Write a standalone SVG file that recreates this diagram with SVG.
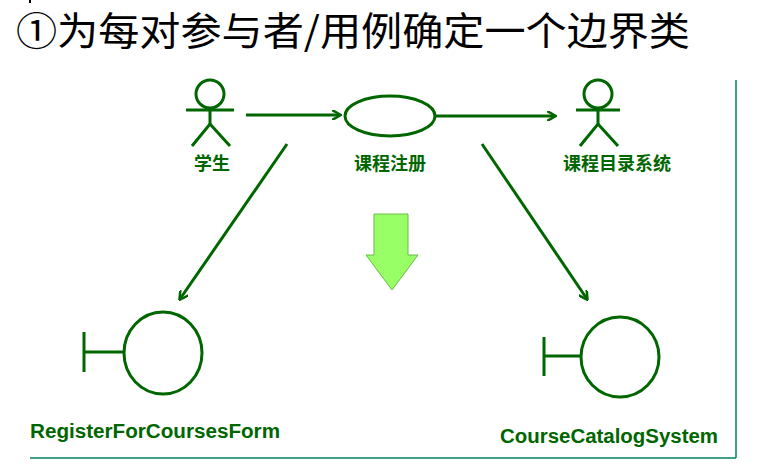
<svg xmlns="http://www.w3.org/2000/svg" width="759" height="468" viewBox="0 0 759 468">
<style>
.s{stroke:#006600;stroke-width:3;fill:none}
.c{stroke:#006600;stroke-width:3;fill:#fff}
.l{font-family:"Noto Sans CJK SC",sans-serif;font-weight:bold;font-size:18px;fill:#006600;text-anchor:middle}
.e{font-family:"Liberation Sans",sans-serif;font-weight:bold;font-size:20px;fill:#006600}
</style>
<defs><marker id="a" markerWidth="10" markerHeight="10" refX="8" refY="5" orient="auto" markerUnits="userSpaceOnUse"><path d="M0,0 L9,5 L0,10" fill="none" stroke="#006600" stroke-width="2.5"/></marker></defs>
<rect width="759" height="468" fill="#fff"/>
<line x1="30" y1="0" x2="30" y2="3" stroke="#000" stroke-width="2"/>
<text x="16" y="45" font-family="Noto Sans CJK SC,sans-serif" font-size="39" fill="#000" textLength="674" lengthAdjust="spacingAndGlyphs">①为每对参与者/用例确定一个边界类</text>
<g stroke="#008060" stroke-width="1.5"><line x1="736" y1="80" x2="736" y2="458"/><line x1="30" y1="458" x2="736" y2="458"/></g>
<g id="student" class="s"><circle cx="210" cy="94" r="14"/><line x1="186" y1="110" x2="234" y2="110"/><line x1="210" y1="108" x2="210" y2="124"/><polyline points="192,146 210,124 230,146"/></g>
<text class="l" x="212" y="170">学生</text>
<g id="usecase"><ellipse class="c" cx="390" cy="116" rx="45" ry="20"/><text class="l" x="390" y="170">课程注册</text></g>
<g id="catalog" class="s"><circle cx="598" cy="94" r="14"/><line x1="576" y1="110" x2="620" y2="110"/><line x1="598" y1="108" x2="598" y2="124"/><polyline points="580,146 598,124 618,146"/></g>
<text class="l" x="617" y="170">课程目录系统</text>
<g id="connectors" class="s" marker-end="url(#a)">
<line x1="246" y1="115" x2="340" y2="115"/>
<line x1="436" y1="116" x2="555" y2="116"/>
<line x1="287" y1="144" x2="180" y2="299"/>
<line x1="482" y1="144" x2="587" y2="299"/>
</g>
<polygon points="374,214 408,214 408,255 418,255 392,290 366,255 374,255" fill="#99ff66" stroke="#66bb44" stroke-width="1"/>
<g id="form" class="s"><ellipse cx="163" cy="353" rx="39" ry="41"/><line x1="84" y1="352" x2="124" y2="352"/><line x1="84" y1="332" x2="84" y2="372"/></g>
<text class="e" x="30" y="438" textLength="250" lengthAdjust="spacingAndGlyphs">RegisterForCoursesForm</text>
<g id="sys" class="s"><ellipse cx="620" cy="357" rx="39" ry="40"/><line x1="544" y1="356" x2="581" y2="356"/><line x1="544" y1="337" x2="544" y2="376"/></g>
<text class="e" x="500" y="443" textLength="218" lengthAdjust="spacingAndGlyphs">CourseCatalogSystem</text>
</svg>
